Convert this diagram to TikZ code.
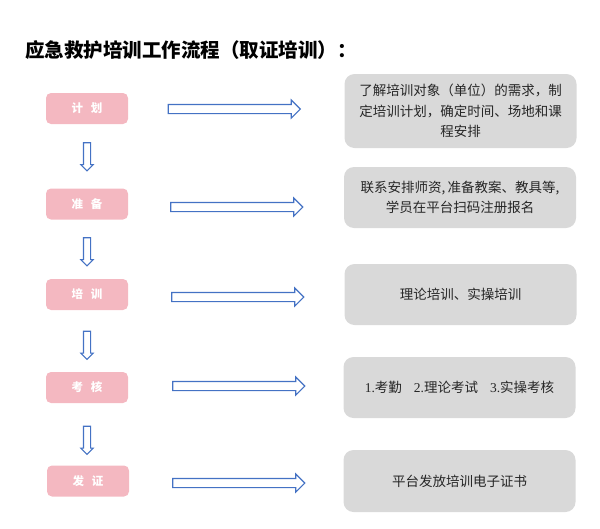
\documentclass[tikz,border=0pt]{standalone}
\usepackage{fontspec}
\newfontfamily\cjk{Noto Sans CJK SC}
\newfontfamily\dig{Liberation Serif}
\usetikzlibrary{shapes.arrows}
\definecolor{pinkbox}{RGB}{244,184,193}
\definecolor{graybox}{RGB}{217,217,217}
\definecolor{arrowblue}{RGB}{68,114,196}
\definecolor{txt}{RGB}{38,38,38}
\begin{document}
\begin{tikzpicture}[x=1pt,y=-1pt,
  stage/.style={rectangle, rounded corners=5pt, fill=pinkbox, minimum width=82pt, minimum height=31pt, inner sep=0pt, font=\cjk\bfseries\fontsize{11.5}{13}\selectfont, text=white},
  info/.style={rectangle, rounded corners=10pt, fill=graybox, minimum width=232pt, inner sep=0pt, font=\cjk\fontsize{13.5}{20.5}\selectfont, text=txt, align=center},
  blockarrow/.style={single arrow, draw=arrowblue, line width=1.1pt, fill=white, single arrow head indent=0pt, inner xsep=0pt},
  rarrow/.style={blockarrow, minimum height=132pt, inner ysep=4pt, single arrow head extend=4.5pt},
  darrow/.style={blockarrow, rotate=-90, minimum height=28pt, inner ysep=3pt, single arrow head extend=2.6pt}
]
\useasboundingbox (0,0) rectangle (600,528);
\node[anchor=west, inner sep=0pt, font=\cjk\bfseries\fontsize{19.5}{22}\selectfont] (title) at (25,50) {应急救护培训工作流程（取证培训）：};

\node[stage] (s1) at (87,108.5) {计\hspace{8pt}划};
\node[stage] (s2) at (87,204) {准\hspace{8pt}备};
\node[stage] (s3) at (87,294.5) {培\hspace{8pt}训};
\node[stage] (s4) at (87,387.5) {考\hspace{8pt}核};
\node[stage] (s5) at (88,481) {发\hspace{8pt}证};

\node[info, minimum height=74pt] (g1) at (460.5,111) {了解培训对象（单位）的需求，制\\定培训计划，确定时间、场地和课\\程安排};
\node[info, minimum height=61pt] (g2) at (460,197.5) {联系安排师资,\,准备教案、教具等,\\学员在平台扫码注册报名};
\node[info, minimum height=61pt] (g3) at (460.5,294.5) {理论培训、实操培训};
\node[info, minimum height=61pt] (g4) at (459.5,387.5) {{\dig 1.}考勤\hspace{12pt}{\dig 2.}理论考试\hspace{12pt}{\dig 3.}实操考核};
\node[info, minimum height=62pt] (g5) at (459.5,481) {平台发放培训电子证书};

\node[rarrow] (r1) at (232,109) {};
\node[rarrow] (r2) at (234.5,207) {};
\node[rarrow] (r3) at (235.5,297) {};
\node[rarrow] (r4) at (236.5,386) {};
\node[rarrow] (r5) at (236.5,483) {};

\node[darrow] (d1) at (87,155) {};
\node[darrow] (d2) at (87,250) {};
\node[darrow] (d3) at (87,343.5) {};
\node[darrow] (d4) at (87,438.5) {};
\end{tikzpicture}
\end{document}
